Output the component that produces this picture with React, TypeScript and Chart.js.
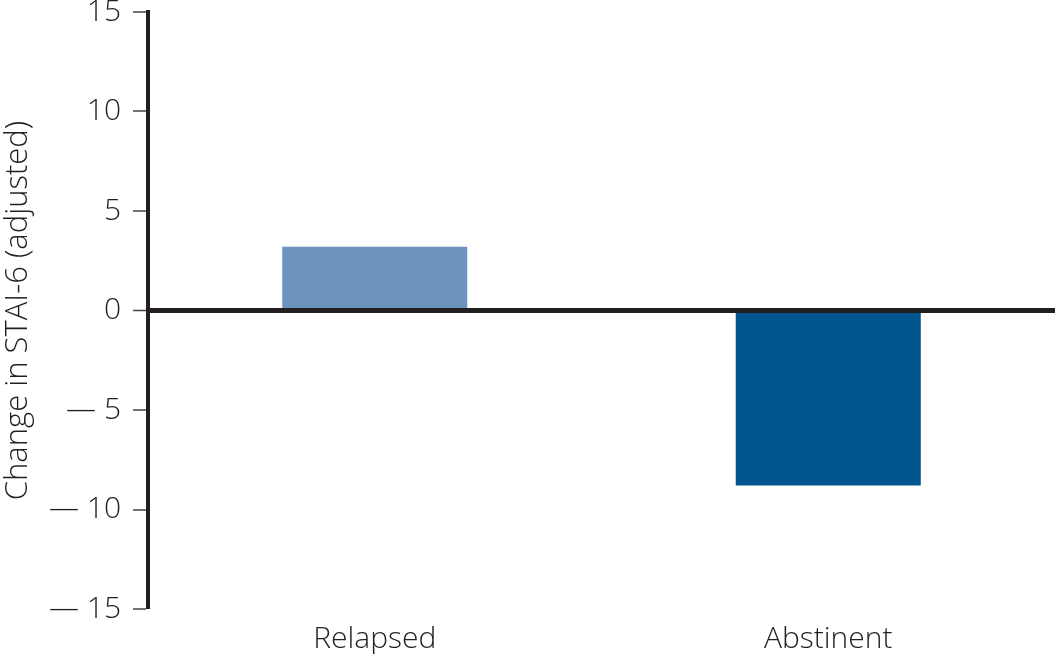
import React, { useEffect, useRef } from "react";
import { Chart, registerables } from "chart.js";

Chart.register(...registerables);

const categories = ["Relapsed", "Abstinent"];
const values = [3.2, -8.8];
const barColors = ["#6D93BF", "#00558F"];
const yTitle = "Change in STAI-6 (adjusted)";
const yMin = -15;
const yMax = 15;
const yStep = 5;

const FONT = "'Open Sans', 'Liberation Sans', sans-serif";
const DARK = "#231F20";

export default function App() {
  const ref = useRef<HTMLCanvasElement | null>(null);

  useEffect(() => {
    document.body.style.margin = "0";
    if (!ref.current) return;
    const chart = new Chart(ref.current, {
      type: "bar",
      data: {
        labels: categories,
        datasets: [
          {
            data: values,
            backgroundColor: barColors,
            borderWidth: 0,
            categoryPercentage: 1,
            barPercentage: 0.408,
          },
        ],
      },
      options: {
        animation: false,
        responsive: true,
        maintainAspectRatio: false,
        layout: { padding: { top: 12, right: 1, left: 0, bottom: 0 } },
        plugins: { legend: { display: false }, tooltip: { enabled: false } },
        scales: {
          x: {
            grid: { display: false },
            border: { display: false },
            ticks: {
              color: DARK,
              font: { family: FONT, size: 30, weight: "300" },
              padding: 4,
            },
            afterFit: (s: any) => {
              s.height = 45;
              s.paddingLeft = 0;
              s.paddingRight = 0;
            },
          },
          y: {
            min: yMin,
            max: yMax,
            z: 1,
            border: { display: true, color: DARK, width: 4 },
            grid: {
              drawOnChartArea: true,
              color: (ctx: any) => (ctx.tick && ctx.tick.value === 0 ? DARK : "rgba(0,0,0,0)"),
              lineWidth: (ctx: any) => (ctx.tick && ctx.tick.value === 0 ? 5 : 0),
              drawTicks: true,
              tickLength: 15,
              tickColor: "#444",
              tickWidth: 1.5,
            },
            ticks: {
              stepSize: yStep,
              color: DARK,
              padding: 12,
              font: { family: FONT, size: 30, weight: "300" },
              callback: (v: any) => (Number(v) < 0 ? "\u2014 " + Math.abs(Number(v)) : String(v)),
            },
            title: {
              display: true,
              text: yTitle,
              color: DARK,
              font: { family: FONT, size: 31, weight: "300" },
              padding: { top: 0, bottom: 0 },
            },
            afterFit: (s: any) => {
              s.width = 148;
              s.paddingTop = 0;
              s.paddingBottom = 0;
            },
          },
        },
      },
    });
    return () => chart.destroy();
  }, []);

  return (
    <div style={{ position: "relative", width: 1056, height: 654 }}>
      <canvas ref={ref} />
    </div>
  );
}
